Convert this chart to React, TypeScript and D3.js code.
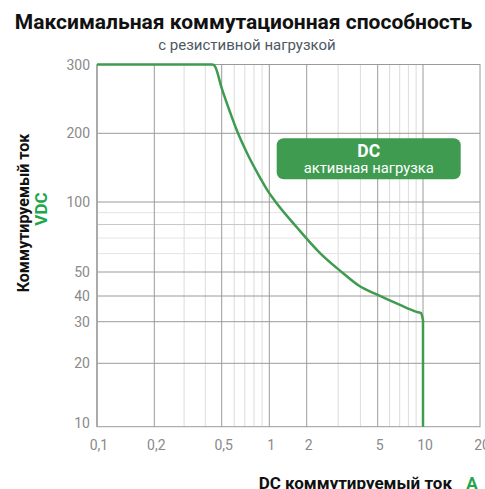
import React from "react";
import * as d3 from "d3";

const W = 485;
const H = 489;

// Axis ticks (labelled) and their pixel anchors of the distorted log grid
const xTicks = [0.1, 0.2, 0.5, 1, 2, 5, 10, 20];
const xTickLabels = ["0,1", "0,2", "0,5", "1", "2", "5", "10", "20"];
const xMinor = [0.3, 0.4, 0.6, 0.7, 0.8, 0.9, 3, 4, 6, 7, 8, 9];
const yTicks = [10, 20, 30, 40, 50, 100, 200, 300];
const yTickLabels = ["10", "20", "30", "40", "50", "100", "200", "300"];
const yMinor = [60, 70, 80, 90];

// Curve: DC switching current (A) vs voltage (VDC)
const currentA = [0.1, 0.44, 0.456, 0.5, 0.564, 0.622, 0.72, 0.873, 0.985, 1.11, 1.67, 2.375, 3.07, 3.93, 5, 7.03, 9.08, 9.7, 10];
const voltageV = [300, 300, 297, 261, 226.8, 203.9, 164.8, 128, 111, 101, 77.7, 60.3, 50.7, 44.0, 40.4, 36.2, 33.5, 33.0, 30.5];
const tailA = [10, 10];
const tailV = [30.5, 10];

const xRange = [97, 154.3, 221.7, 269.3, 306.7, 377.7, 423, 480];
const yRange = [426.7, 363.3, 321.7, 296, 272, 202, 133.3, 64.5];

const lx = d3.scaleLinear().domain(xTicks.map(Math.log10)).range(xRange);
const ly = d3.scaleLinear().domain(yTicks.map(Math.log10)).range(yRange);
const x = (v: number) => lx(Math.log10(v));
const y = (v: number) => ly(Math.log10(v));

const GREEN = "#3e9b4f";
const BRIGHT = "#1ea64a";

export default function App() {
  const pts = currentA.map((a, i) => [a, voltageV[i]] as [number, number]);
  const tail = tailA.map((a, i) => [a, tailV[i]] as [number, number]);
  const curve = d3
    .line<[number, number]>()
    .x((d) => x(d[0]))
    .y((d) => y(d[1]))
    .curve(d3.curveMonotoneX);
  const straight = d3
    .line<[number, number]>()
    .x((d) => x(d[0]))
    .y((d) => y(d[1]));
  const tailPath = (straight(tail) || "").replace(/^M/, "L");
  const left = x(0.1), right = x(20), top = y(300), bottom = y(10);
  const majorX = [0.2, 0.5, 1, 2, 5, 10];
  const majorY = [20, 30, 40, 50, 100, 200];
  const font = "Roboto, 'Open Sans', sans-serif";
  return (
    <svg width={W} height={H} style={{ position: "absolute", left: 0, top: 0, background: "#fff" }} fontFamily={font}>
      <text x={243.5} y={29} textAnchor="middle" fontSize={21} fontWeight={700} fill="#111">
        Максимальная коммутационная способность
      </text>
      <text x={247} y={50} textAnchor="middle" fontSize={15} fill="#4d5863">
        с резистивной нагрузкой
      </text>
      {/* minor grid */}
      {xMinor.map((v) => (
        <line key={"xm" + v} x1={x(v)} x2={x(v)} y1={top} y2={bottom} stroke="#dcdcdc" strokeWidth={1} />
      ))}
      {yMinor.map((v) => (
        <line key={"ym" + v} x1={left} x2={right} y1={y(v)} y2={y(v)} stroke={v === 80 ? "#c8c8c8" : "#e4e4e4"} strokeWidth={1} />
      ))}
      {/* major grid */}
      {majorX.map((v) => (
        <line key={"xM" + v} x1={x(v)} x2={x(v)} y1={top} y2={bottom} stroke="#9a9a9a" strokeWidth={1} />
      ))}
      {majorY.map((v) => (
        <line key={"yM" + v} x1={left} x2={right} y1={y(v)} y2={y(v)} stroke="#9a9a9a" strokeWidth={1} />
      ))}
      <rect x={left} y={top} width={right - left} height={bottom - top} fill="none" stroke="#9a9a9a" strokeWidth={1} />
      <line x1={left} x2={left} y1={top} y2={bottom} stroke="#aaaaaa" strokeWidth={2} />
      {/* tick labels */}
      {yTicks.map((v, i) => (
        <text key={"yl" + v} x={90} y={y(v) + (v === 10 ? -4 : 0)} textAnchor="end" dominantBaseline="central" fontSize={14} fill="#8a8a8a">
          {yTickLabels[i]}
        </text>
      ))}
      {xTicks.map((v, i) => (
        <text key={"xl" + v} x={x(v) + 2} y={450} textAnchor="middle" fontSize={14} fill="#8a8a8a">
          {xTickLabels[i]}
        </text>
      ))}
      {/* curve */}
      <path d={(curve(pts) || "") + tailPath} fill="none" stroke={GREEN} strokeWidth={2.5} strokeLinejoin="round" />
      {/* label box */}
      <rect x={276.7} y={138.3} width={184} height={41} rx={7} fill={GREEN} />
      <text x={368.7} y={156.5} textAnchor="middle" fontSize={17.5} fontWeight={700} fill="#fff">
        DC
      </text>
      <text x={368.7} y={173} textAnchor="middle" fontSize={14.8} fill="#fff">
        активная нагрузка
      </text>
      {/* axis titles */}
      <text x={452} y={489} textAnchor="end" fontSize={17} fontWeight={700} fill="#111">
        DC коммутируемый ток
      </text>
      <text x={472} y={489} textAnchor="middle" fontSize={17} fontWeight={700} fill={BRIGHT}>
        A
      </text>
      <text transform="translate(29,213) rotate(-90)" textAnchor="middle" fontSize={16} fontWeight={700} fill="#111">
        Коммутируемый ток
      </text>
      <text transform="translate(47,209) rotate(-90)" textAnchor="middle" fontSize={17} fontWeight={700} fill={BRIGHT}>
        VDC
      </text>
    </svg>
  );
}
